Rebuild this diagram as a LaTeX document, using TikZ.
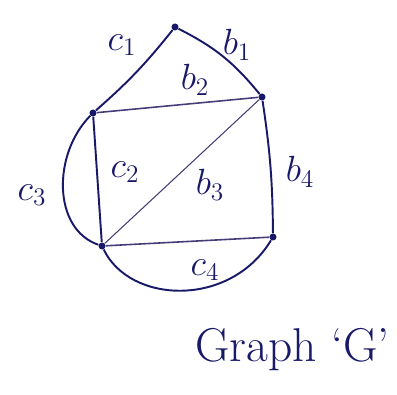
\documentclass[tikz,border=0pt]{standalone}
\usepackage{amsmath}
\usepackage{tikz}
\usetikzlibrary{calc}

\definecolor{ink}{RGB}{25,25,105}
\definecolor{inklight}{RGB}{70,60,120}

\begin{document}
\begin{tikzpicture}[
  vert/.style={circle, fill=ink, inner sep=0pt, minimum size=4pt},
  lbl/.style={text=ink, font=\huge},
  edge/.style={draw=ink, line width=1.1pt},
  thin/.style={draw=inklight, line width=0.6pt}]

  \useasboundingbox (0,0) rectangle (7.94,7.88);

  % vertices
  \node[vert] at (3.50, 7.34) (t)  {};
  \node[vert] at (1.86, 5.62) (lt) {};
  \node[vert] at (5.24, 5.94) (rt) {};
  \node[vert] at (2.04, 2.96) (lb) {};
  \node[vert] at (5.46, 3.14) (rb) {};

  % edges
  \draw[edge] (t)  to[bend left=5] (lt);
  \draw[edge] (t)  to[bend left=12] (rt);
  \draw[thin, line width=0.9pt] (lt) -- (rt);
  \draw[edge] (lt) -- (lb);
  \draw[thin] (lb) -- (rt);
  \draw[edge] (rt) to[bend left=4] (rb);
  \draw[thin, line width=0.9pt] (lb) -- (rb);
  \draw[edge] (lt) .. controls (1.05, 4.80) and (1.05, 3.30) .. (lb);
  \draw[edge] (lb) .. controls (2.60, 1.80) and (4.60, 1.72) .. (rb);

  % edge labels
  \node[lbl] at (2.44, 6.98) (lc1) {$c_1$};
  \node[lbl] at (4.74, 6.98) (lb1) {$b_1$};
  \node[lbl] at (3.90, 6.28) (lb2) {$b_2$};
  \node[lbl] at (2.50, 4.44) (lc2) {$c_2$};
  \node[lbl] at (4.20, 4.18) (lb3) {$b_3$};
  \node[lbl] at (6.00, 4.44) (lb4) {$b_4$};
  \node[lbl] at (0.64, 3.98) (lc3) {$c_3$};
  \node[lbl] at (4.10, 2.48) (lc4) {$c_4$};

  \node[lbl, font=\fontsize{27}{30}\selectfont] at (5.85, 0.88) (title) {Graph `G'};

\end{tikzpicture}
\end{document}
